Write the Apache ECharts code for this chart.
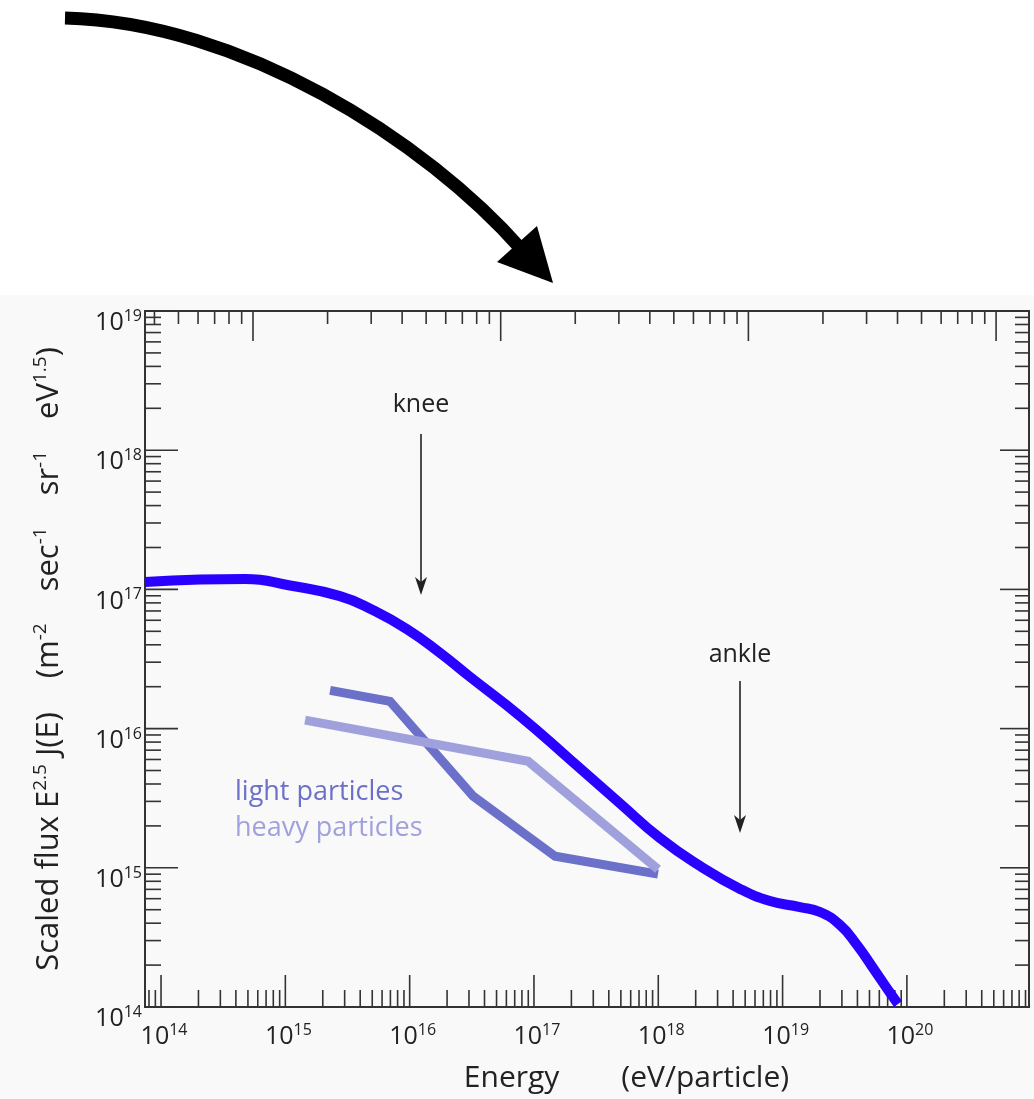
<!DOCTYPE html>
<html>
<head>
<meta charset="utf-8">
<script src="https://cdn.jsdelivr.net/npm/echarts@6/dist/echarts.min.js"></script>
<style>
html,body{margin:0;padding:0;background:#fff;}
#c{width:1034px;height:1099px;}
</style>
</head>
<body>
<div id="c"></div>
<script>
// ---- data ----
const energy = [7.43e13, 2.06e14, 4.74e14, 1.09e15, 2.75e15, 5.10e15, 9.53e15, 1.76e16, 3.06e16, 7.73e16, 1.95e17, 4.93e17, 1.03e18, 2.17e18, 4.55e18, 7.93e18, 1.38e19, 2.00e19, 2.90e19, 3.97e19, 5.35e19, 7.33e19, 8.49e19];
const flux = [1.130e17, 1.178e17, 1.188e17, 1.067e17, 8.95e16, 7.08e16, 5.18e16, 3.49e16, 2.35e16, 1.23e16, 6.0e15, 2.90e15, 1.637e15, 1.03e15, 7.05e14, 5.77e14, 5.22e14, 4.81e14, 3.88e14, 2.79e14, 1.905e14, 1.262e14, 1.052e14];
const lightE = [2.29e15, 6.95e15, 3.24e16, 1.48e17, 9.95e17];
const lightFlux = [1.88e16, 1.57e16, 3.27e15, 1.21e15, 9.0e14];
const heavyE = [1.44e15, 8.97e16, 9.95e17];
const heavyFlux = [1.15e16, 5.82e15, 9.77e14];

// axis ranges and tick labels
const xMin = 7.43e13, xMax = 9.6e20;
const yMin = 1e14, yMax = 1e19;
const topMin = 0.3664, topMax = 1358;
const xLabelExp = [14, 15, 16, 17, 18, 19, 20];
const yLabelExp = [14, 15, 16, 17, 18, 19];
const xTickExp = [13, 14, 15, 16, 17, 18, 19, 20];
const yTickExp = [14, 15, 16, 17, 18, 19];
const topTickExp = [-1, 0, 1, 2, 3];
const minorK = [2, 3, 4, 5, 6, 7, 8, 9];

const FONT = 'Open Sans';
const INK = '#222';

function buildTicks(exps, lo, hi) {
  const out = [];
  exps.forEach(function (n) {
    const d = Math.pow(10, n);
    if (d >= lo && d <= hi) out.push([d, 1]);
    minorK.forEach(function (k) {
      const v = k * d;
      if (v >= lo && v <= hi) out.push([v, 0]);
    });
  });
  return out;
}
const bottomTicks = buildTicks(xTickExp, xMin, xMax).map(t => [t[0], yMin, t[1]]);
const topTicks = buildTicks(topTickExp, topMin, topMax).map(t => [t[0], yMin, t[1]]);
const sideTicks = buildTicks(yTickExp, yMin, yMax).map(t => [xMin, t[0], t[1]]);

function tickRenderer(side, majLen, minLen) {
  return function (params, api) {
    const cs = params.coordSys;
    const len = api.value(2) === 1 ? majLen : minLen;
    const p = api.coord([api.value(0), api.value(1)]);
    let shape;
    if (side === 'bottom') shape = {x1: p[0], y1: cs.y + cs.height, x2: p[0], y2: cs.y + cs.height - len};
    else if (side === 'top') shape = {x1: p[0], y1: cs.y, x2: p[0], y2: cs.y + len};
    else if (side === 'left') shape = {x1: cs.x, y1: p[1], x2: cs.x + len, y2: p[1]};
    else shape = {x1: cs.x + cs.width, y1: p[1], x2: cs.x + cs.width - len, y2: p[1]};
    return {type: 'line', shape: shape, style: {stroke: '#333', lineWidth: 1.6}};
  };
}

function expLabel(list) {
  return function (v) {
    const l = Math.log10(v);
    const e = Math.round(l);
    if (Math.abs(l - e) > 1e-6 || list.indexOf(e) < 0) return '';
    return '{b|10}{s|' + e + '}';
  };
}
const labelRich = {
  b: {fontSize: 25, fontFamily: FONT, color: INK, lineHeight: 29},
  s: {fontSize: 16, fontFamily: FONT, color: INK, lineHeight: 16, verticalAlign: 'top'}
};

const chart = echarts.init(document.getElementById('c'), null, {renderer: 'canvas'});

const option = {
  animation: false,
  backgroundColor: '#ffffff',
  grid: {left: 145, right: 5, top: 311, bottom: 92, show: true, borderColor: '#333', borderWidth: 2, backgroundColor: 'transparent'},
  xAxis: [
    {
      type: 'log', logBase: 10, min: xMin, max: xMax, position: 'bottom',
      axisLine: {show: false}, axisTick: {show: false}, splitLine: {show: false},
      axisLabel: {formatter: expLabel(xLabelExp), fontSize: 25, fontFamily: FONT, color: INK, rich: labelRich, margin: 15, padding: [0, 0, 0, 6], showMinLabel: true, showMaxLabel: false, hideOverlap: false},
      name: '{a|Energy}{g|}{a|(eV/particle)}',
      nameLocation: 'middle', nameGap: 56,
      nameTextStyle: {fontSize: 30, fontFamily: FONT, color: INK, rich: {a: {fontSize: 30, fontFamily: FONT, color: INK}, g: {width: 62}}, padding: [0, 0, 0, 79]}
    },
    {
      type: 'log', logBase: 10, min: topMin, max: topMax, position: 'top',
      axisLine: {show: false}, axisTick: {show: false}, splitLine: {show: false}, axisLabel: {show: false}
    }
  ],
  yAxis: [
    {
      type: 'log', logBase: 10, min: yMin, max: yMax, position: 'left',
      axisLine: {show: false}, axisTick: {show: false}, splitLine: {show: false},
      axisLabel: {formatter: expLabel(yLabelExp), fontSize: 25, fontFamily: FONT, color: INK, rich: labelRich, margin: 3, padding: [24, 0, 0, 0], showMinLabel: true, showMaxLabel: true},
      name: '{t|Scaled flux E}{u|2.5}{t| J(E)}{w|}{t|(m}{u|-2}{g|}{t|sec}{u|-1}{g|}{t|sr}{u|-1}{g|}{t|eV}{u|1.5}{t|)}',
      nameLocation: 'middle', nameRotate: 90, nameGap: 78,
      nameTextStyle: {fontSize: 31, fontFamily: FONT, color: INK, rich: {
        t: {fontSize: 31, fontFamily: FONT, color: INK, lineHeight: 36},
        u: {fontSize: 19, fontFamily: FONT, color: INK, lineHeight: 21, verticalAlign: 'top'},
        g: {width: 32},
        w: {width: 34}
      }}
    }
  ],
  series: [
    {type: 'custom', name: 'bottomTicks', xAxisIndex: 0, yAxisIndex: 0, data: bottomTicks, encode: {x: 0, y: 1}, renderItem: tickRenderer('bottom', 32, 17), silent: true, clip: false, z: 5},
    {type: 'custom', name: 'topTicks', xAxisIndex: 1, yAxisIndex: 0, data: topTicks, encode: {x: 0, y: 1}, renderItem: tickRenderer('top', 30, 13), silent: true, clip: false, z: 5},
    {type: 'custom', name: 'leftTicks', xAxisIndex: 0, yAxisIndex: 0, data: sideTicks, encode: {x: 0, y: 1}, renderItem: tickRenderer('left', 33, 16), silent: true, clip: false, z: 5},
    {type: 'custom', name: 'rightTicks', xAxisIndex: 0, yAxisIndex: 0, data: sideTicks, encode: {x: 0, y: 1}, renderItem: tickRenderer('right', 29, 14), silent: true, clip: false, z: 5},
    {
      type: 'line', name: 'light particles', data: lightE.map((e, i) => [e, lightFlux[i]]),
      showSymbol: false, smooth: false, lineStyle: {color: '#6b70c9', width: 9, cap: 'butt', join: 'miter'}, z: 3, silent: true
    },
    {
      type: 'line', name: 'heavy particles', data: heavyE.map((e, i) => [e, heavyFlux[i]]),
      showSymbol: false, smooth: false, lineStyle: {color: '#a0a1dc', width: 9, cap: 'butt', join: 'miter'}, z: 4, silent: true
    },
    {
      type: 'line', name: 'all particles', data: energy.map((e, i) => [e, flux[i]]),
      showSymbol: false, smooth: 0.5, lineStyle: {color: '#2a00ff', width: 10, cap: 'butt', join: 'round'}, z: 6, silent: true
    }
  ],
  graphic: [
    {type: 'rect', z: -10, silent: true, shape: {x: 0, y: 295, width: 1034, height: 804}, style: {fill: '#f9f9f9'}},
    // big curved arrow
    {type: 'bezierCurve', z: 10, silent: true, shape: {x1: 65, y1: 18, cpx1: 240, cpy1: 22, cpx2: 425, cpy2: 140, x2: 522, y2: 250}, style: {stroke: '#000', lineWidth: 13, fill: null}},
    {type: 'polygon', z: 10, silent: true, shape: {points: [[497, 262], [537, 226], [553, 283]]}, style: {fill: '#000'}},
    // knee
    {type: 'text', z: 10, silent: true, x: 421, y: 405, style: {text: 'knee', font: '25px "Open Sans"', fill: INK, align: 'center', verticalAlign: 'middle'}},
    {type: 'line', z: 10, silent: true, shape: {x1: 421, y1: 434, x2: 421, y2: 585}, style: {stroke: '#222', lineWidth: 1.6}},
    {type: 'polygon', z: 10, silent: true, shape: {points: [[421, 595], [415, 577], [421, 582], [427, 577]]}, style: {fill: '#222'}},
    // ankle
    {type: 'text', z: 10, silent: true, x: 740, y: 655, style: {text: 'ankle', font: '25px "Open Sans"', fill: INK, align: 'center', verticalAlign: 'middle'}},
    {type: 'line', z: 10, silent: true, shape: {x1: 740, y1: 681, x2: 740, y2: 823}, style: {stroke: '#222', lineWidth: 1.6}},
    {type: 'polygon', z: 10, silent: true, shape: {points: [[740, 833], [734, 815], [740, 820], [746, 815]]}, style: {fill: '#222'}},
    // particle labels
    {type: 'text', z: 10, silent: true, x: 235, y: 792, style: {text: 'light particles', font: '27px "Open Sans"', fill: '#6b70c9', align: 'left', verticalAlign: 'middle'}},
    {type: 'text', z: 10, silent: true, x: 235, y: 828, style: {text: 'heavy particles', font: '27px "Open Sans"', fill: '#a0a1dc', align: 'left', verticalAlign: 'middle'}}
  ]
};
chart.setOption(option);
</script>
</body>
</html>
